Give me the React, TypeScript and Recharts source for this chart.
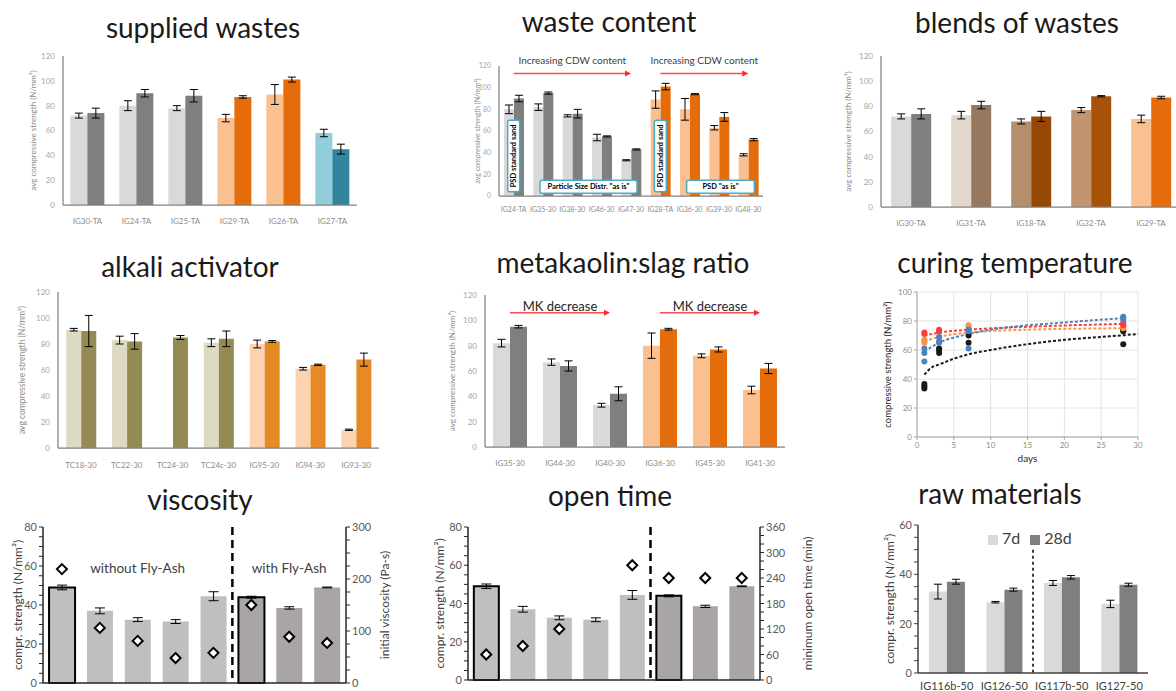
import React from 'react'
import {
  BarChart,
  Bar,
  ComposedChart,
  Line,
  Scatter,
  XAxis,
  YAxis,
  CartesianGrid,
  ErrorBar,
  Cell,
  ReferenceLine,
  ReferenceArea,
  ReferenceDot,
  Legend,
} from 'recharts'

// supplied wastes
const supCats = ['IG30-TA', 'IG24-TA', 'IG25-TA', 'IG29-TA', 'IG26-TA', 'IG27-TA']
const sup7d = [72, 80, 78, 70, 89, 58]
const sup7dErr = [2, 4, 2, 3, 8, 3]
const sup28d = [74, 90, 88, 87, 101, 45]
const sup28dErr = [4, 3, 5, 1, 2, 4]

// waste content
const wcCats = ['IG24-TA', 'IG35-30', 'IG38-30', 'IG46-30', 'IG47-30', 'IG28-TA', 'IG36-30', 'IG39-30', 'IG48-30']
const wc7d = [80, 82, 74, 54, 33, 89, 80, 63, 38]
const wc7dErr = [4, 3, 1, 3, 0.5, 8, 10, 2, 1]
const wc28d = [90, 95, 76, 55, 43, 101, 94, 73, 52]
const wc28dErr = [3, 1, 4, 0.5, 0.5, 3, 0.5, 4, 1]

// blends of wastes
const blCats = ['IG30-TA', 'IG31-TA', 'IG18-TA', 'IG32-TA', 'IG29-TA']
const bl7d = [72, 73, 68, 77, 70]
const bl7dErr = [2, 3, 2, 2, 3]
const bl28d = [74, 81, 72, 88, 87]
const bl28dErr = [4, 3, 4, 0.5, 1]

// alkali activator
const aaCats = ['TC18-30', 'TC22-30', 'TC24-30', 'TC24c-30', 'IG95-30', 'IG94-30', 'IG93-30']
const aa7d = [91, 83, null, 81, 80, 61, 14]
const aa7dErr = [1, 3, null, 3, 3, 1, 0.5]
const aa28d = [90, 82, 85, 84, 82, 64, 68]
const aa28dErr = [12, 6, 1.5, 6, 0.7, 0.5, 5]

// metakaolin:slag ratio
const mkCats = ['IG35-30', 'IG44-30', 'IG40-30', 'IG36-30', 'IG45-30', 'IG41-30']
const mk7d = [82, 67, 33, 80, 72, 45]
const mk7dErr = [3, 2.5, 1.5, 10, 1.5, 3]
const mk28d = [95, 64, 42, 93, 77, 62]
const mk28dErr = [1, 4, 5.5, 0.7, 2, 4]

// curing temperature (points + trend)
const blueDays = [1, 1, 1, 3, 3, 3, 7, 7, 7, 28, 28, 28]
const blueStrength = [61, 58, 52, 69, 66, 65, 74, 73, 61, 83, 82, 81]
const redDays = [1, 1, 3, 3, 7, 28, 28]
const redStrength = [72, 71, 74, 73, 74, 79, 77]
const orangeDays = [1, 1, 1, 3, 7, 7, 28, 28]
const orangeStrength = [67, 66, 65, 69, 77, 76, 76, 75]
const blackDays = [1, 1, 1, 3, 3, 3, 7, 7, 28, 28, 28]
const blackStrength = [36.5, 35, 33.5, 61, 60, 58, 70, 65, 74, 73, 64]
const blueTrendDays = [1, 3, 7, 10, 15, 20, 28]
const blueTrend = [59, 65, 71, 74, 77, 79, 82]
const redTrendDays = [1, 3, 7, 15, 28]
const redTrend = [70, 72, 74, 76, 78]
const orangeTrendDays = [1, 3, 7, 15, 28]
const orangeTrend = [66, 69, 72, 74, 75]
const blackTrendDays = [1, 2, 3, 5, 7, 10, 15, 20, 25, 30]
const blackTrend = [43, 48, 50, 54, 57, 60, 64, 67, 69, 71]

// viscosity / open time
const mixCats = ['noFA-1', 'noFA-2', 'noFA-3', 'noFA-4', 'noFA-5', 'FA-1', 'FA-2', 'FA-3']
const mixStrength = [49, 37, 32.5, 31.5, 44.5, 44, 38.5, 49]
const mixStrengthErr = [1.2, 1.5, 1, 1, 2.3, 0.5, 0.6, 0.2]
const mixViscosity = [219, 106, 81, 48, 58, 150, 89, 77]
const mixOpenTime = [60, 80, 120, null, 270, 240, 240, 240]

// raw materials
const rawCats = ['IG116b-50', 'IG126-50', 'IG117b-50', 'IG127-50']
const raw7d = [33, 28.7, 36.5, 28]
const raw7dErr = [3, 0.3, 1, 1.5]
const raw28d = [37, 33.8, 38.8, 35.8]
const raw28dErr = [1, 0.6, 0.7, 0.6]

// ticks
const strengthTicks = [0, 20, 40, 60, 80, 100, 120]
const cureStrengthTicks = [0, 20, 40, 60, 80, 100]
const cureDayTicks = [0, 5, 10, 15, 20, 25, 30]
const mixLeftTicks = [0, 5, 10, 15, 20, 25, 30, 35, 40, 45, 50, 55, 60, 65, 70, 75, 80]
const mixLeftLabels = [0, 20, 40, 60, 80]
const viscTicks = [0, 25, 50, 75, 100, 125, 150, 175, 200, 225, 250, 275, 300]
const viscLabels = [0, 100, 200, 300]
const openTicks = [0, 20, 40, 60, 80, 100, 120, 140, 160, 180, 200, 220, 240, 260, 280, 300, 320, 340, 360]
const openLabels = [0, 60, 120, 180, 240, 300, 360]
const rawTicks = [0, 5, 10, 15, 20, 25, 30, 35, 40, 45, 50, 55, 60]
const rawLabels = [0, 20, 40, 60]

const GREY_L = '#d9d9d9'
const GREY_D = '#7f7f7f'
const ORG_L = '#fac090'
const ORG_D = '#e46c0a'
const FRAME = '#808080'
const STRENGTH_LABEL = 'avg compressive strength (N/mm²)'

function RedArrow(props: any) {
  const { x1, y1, x2, y2 } = props
  return (
    <g>
      <line x1={x1} y1={y1} x2={x2 - 4} y2={y2} stroke="#ff4d4d" strokeWidth={1.5} />
      <polygon points={`${x2},${y2} ${x2 - 6},${y2 - 3} ${x2 - 6},${y2 + 3}`} fill="#ff2a2a" />
    </g>
  )
}

// text box drawn along a reference segment (vertical or horizontal)
function noteBox(text: string) {
  return (props: any) => {
    const { x1, y1, x2, y2 } = props
    const vertical = Math.abs(x2 - x1) < 1
    const left = vertical ? x1 - 6 : Math.min(x1, x2) - 3
    const w = vertical ? 12 : Math.abs(x2 - x1) + 9
    const top = vertical ? Math.min(y1, y2) : y1 - 6.5
    const h = vertical ? Math.abs(y2 - y1) : 13
    const cx = left + w / 2
    const cy = top + h / 2
    return (
      <g>
        <rect x={left} y={top} width={w} height={h} rx={2} fill="#fff" stroke="#4bacc6" strokeWidth={1.5} />
        <text
          x={cx}
          y={cy}
          transform={vertical ? `rotate(-90 ${cx} ${cy})` : undefined}
          textAnchor="middle"
          dominantBaseline="central"
          fontSize={7.5}
          fontWeight={700}
          fill="#000"
        >
          {text}
        </text>
      </g>
    )
  }
}

function divider(width: number, dash: string) {
  return (props: any) => {
    const { x, y, height } = props
    return <line x1={x} x2={x} y1={y} y2={y + height} stroke="#000" strokeWidth={width} strokeDasharray={dash} />
  }
}

function Diamond(props: any) {
  const { cx, cy, value, index } = props
  if (cx == null || cy == null || value == null) return <g key={index} />
  return (
    <polygon
      key={index}
      points={`${cx},${cy - 5} ${cx + 5},${cy} ${cx},${cy + 5} ${cx - 5},${cy}`}
      fill="#fff"
      stroke="#000"
      strokeWidth={2}
    />
  )
}

function Dot(props: any) {
  const { cx, cy, fill } = props
  return <circle cx={cx} cy={cy} r={3} fill={fill} />
}

function MajorTick(props: any) {
  const { x, y, payload, labels, textAnchor } = props
  if (!labels.includes(payload.value)) return null
  return (
    <text x={x} y={y} dy={4} textAnchor={textAnchor} fontSize={11} fill="#595959">
      {payload.value}
    </text>
  )
}

function Title({ text, cx, baseline }: { text: string; cx: number; baseline: number }) {
  return (
    <div style={{
      position: 'absolute',
      left: cx - 200,
      width: 400,
      top: baseline - 28,
      textAlign: 'center',
      fontSize: 28,
      lineHeight: '34px',
      color: '#1a1a1a',
    }}>
      {text}
    </div>
  )
}

interface StrengthProps {
  left: number
  top: number
  width: number
  height: number
  margin: { top: number; right: number; bottom: number; left: number }
  yWidth: number
  xHeight: number
  tickGap: number
  font: number
  cats: string[]
  early: (number | null)[]
  earlyErr: (number | null)[]
  late: number[]
  lateErr: number[]
  earlyFill: string[]
  lateFill: string[]
  gap: string
  labelX: number
  labelFont: number
  children?: React.ReactNode
}

function StrengthPanel(p: StrengthProps) {
  const rows = p.cats.map((c, i) => ({
    cat: c,
    early: p.early[i],
    earlyErr: p.earlyErr[i],
    late: p.late[i],
    lateErr: p.lateErr[i],
  }))
  return (
    <div style={{ position: 'absolute', left: p.left, top: p.top }}>
      <BarChart width={p.width} height={p.height} data={rows} margin={p.margin} barGap={0} barCategoryGap={p.gap}>
        <XAxis
          dataKey="cat"
          height={p.xHeight}
          interval={0}
          tickLine={false}
          tickMargin={p.tickGap}
          axisLine={{ stroke: FRAME, strokeWidth: 1.25 }}
          tick={{ fontSize: p.font, fill: '#8c8c8c' }}
        />
        <XAxis xAxisId="frame" orientation="top" dataKey="cat" height={0} tick={false} tickLine={false} axisLine={{ stroke: FRAME, strokeWidth: 1.25 }} />
        <YAxis
          domain={[0, 120]}
          ticks={strengthTicks}
          interval={0}
          width={p.yWidth}
          tickLine={false}
          axisLine={{ stroke: FRAME, strokeWidth: 1.25 }}
          tick={{ fontSize: p.font, fill: '#a6a6a6' }}
          label={{
            value: STRENGTH_LABEL,
            angle: -90,
            position: 'insideLeft',
            offset: p.labelX,
            style: { textAnchor: 'middle', fontSize: p.labelFont, fill: '#8c8c8c' },
          }}
        />
        <YAxis yAxisId="frame" orientation="right" width={0} domain={[0, 120]} tick={false} tickLine={false} axisLine={{ stroke: FRAME, strokeWidth: 1.25 }} />
        <Bar dataKey="early" name="7d" isAnimationActive={false}>
          {rows.map((r, i) => <Cell key={r.cat} fill={p.earlyFill[i]} />)}
          <ErrorBar dataKey="earlyErr" width={4} stroke="#000" strokeWidth={1} />
        </Bar>
        <Bar dataKey="late" name="28d" isAnimationActive={false}>
          {rows.map((r, i) => <Cell key={r.cat} fill={p.lateFill[i]} />)}
          <ErrorBar dataKey="lateErr" width={4} stroke="#000" strokeWidth={1} />
        </Bar>
        {p.children}
      </BarChart>
    </div>
  )
}

interface MixProps {
  left: number
  top: number
  width: number
  height: number
  margin: { top: number; right: number; bottom: number; left: number }
  yWidth: number
  rWidth: number
  markers: (number | null)[]
  rDomain: [number, number]
  rTicks: number[]
  rLabels: number[]
  rightLabel: string
  leftOffset: number
  rightOffset: number
  children?: React.ReactNode
}

const mixFill = ['#bfbfbf', '#bfbfbf', '#bfbfbf', '#bfbfbf', '#bfbfbf', '#aaa5a5', '#aaa5a5', '#aaa5a5']
const mixOutline = [true, false, false, false, false, true, false, false]

function MixPanel(p: MixProps) {
  const rows = mixCats.map((c, i) => ({ cat: c, s: mixStrength[i], sErr: mixStrengthErr[i], m: p.markers[i] }))
  return (
    <div style={{ position: 'absolute', left: p.left, top: p.top }}>
      <ComposedChart width={p.width} height={p.height} data={rows} margin={p.margin} barCategoryGap="16%">
        <XAxis dataKey="cat" height={4} tick={false} tickLine={false} axisLine={{ stroke: '#262626', strokeWidth: 1.5 }} />
        <YAxis
          yAxisId="l"
          domain={[0, 80]}
          ticks={mixLeftTicks}
          interval={0}
          width={p.yWidth}
          tickSize={4}
          tickLine={{ stroke: '#262626' }}
          axisLine={{ stroke: '#262626', strokeWidth: 1.5 }}
          tick={<MajorTick labels={mixLeftLabels} />}
          label={{
            value: 'compr. strength (N/mm²)',
            angle: -90,
            position: 'insideLeft',
            offset: p.leftOffset,
            style: { textAnchor: 'middle', fontSize: 12, fill: '#404040' },
          }}
        />
        <YAxis
          yAxisId="r"
          orientation="right"
          domain={p.rDomain}
          ticks={p.rTicks}
          interval={0}
          width={p.rWidth}
          tickSize={4}
          tickLine={{ stroke: '#262626' }}
          axisLine={{ stroke: '#262626', strokeWidth: 1.5 }}
          tick={<MajorTick labels={p.rLabels} />}
          label={{
            value: p.rightLabel,
            angle: -90,
            position: 'insideRight',
            offset: p.rightOffset,
            style: { textAnchor: 'middle', fontSize: 12, fill: '#404040' },
          }}
        />
        <Bar yAxisId="l" dataKey="s" isAnimationActive={false}>
          {rows.map((r, i) => (
            <Cell key={r.cat} fill={mixFill[i]} stroke={mixOutline[i] ? '#000' : 'none'} strokeWidth={2} />
          ))}
          <ErrorBar dataKey="sErr" width={5} stroke="#000" strokeWidth={1} />
        </Bar>
        <Line yAxisId="r" dataKey="m" stroke="none" dot={Diamond} activeDot={false} isAnimationActive={false} />
        <ReferenceArea yAxisId="l" x1="FA-1" x2="FA-1" y1={0} y2={80} shape={divider(2.5, '8 5')} />
        {p.children}
      </ComposedChart>
    </div>
  )
}

function CuringPanel() {
  const pts = (d: number[], v: number[]) => d.map((x, i) => ({ x, y: v[i] }))
  const series = [
    { name: 'black', color: '#1a1a1a', pts: pts(blackDays, blackStrength), trend: pts(blackTrendDays, blackTrend) },
    { name: 'orange', color: '#f79646', pts: pts(orangeDays, orangeStrength), trend: pts(orangeTrendDays, orangeTrend) },
    { name: 'red', color: '#ff3b3b', pts: pts(redDays, redStrength), trend: pts(redTrendDays, redTrend) },
    { name: 'blue', color: '#4f81bd', pts: pts(blueDays, blueStrength), trend: pts(blueTrendDays, blueTrend) },
  ]
  return (
    <div style={{ position: 'absolute', left: 860, top: 280 }}>
      <ComposedChart width={300} height={187} margin={{ top: 12, right: 22, bottom: 2, left: 0 }}>
        <CartesianGrid stroke="#e3e3e3" />
        <XAxis
          type="number"
          dataKey="x"
          domain={[0, 30]}
          ticks={cureDayTicks}
          interval={0}
          height={28}
          tickSize={3}
          tickLine={{ stroke: '#a6a6a6' }}
          axisLine={{ stroke: '#a6a6a6' }}
          tick={{ fontSize: 8, fill: '#8c8c8c' }}
          label={{ value: 'days', position: 'insideBottom', offset: 3, style: { fontSize: 10, fill: '#262626' } }}
        />
        <XAxis xAxisId="top" orientation="top" type="number" domain={[0, 30]} height={0} tick={false} tickLine={false} axisLine={{ stroke: '#a6a6a6' }} />
        <YAxis
          type="number"
          dataKey="y"
          domain={[0, 100]}
          ticks={cureStrengthTicks}
          interval={0}
          width={57}
          tickSize={3}
          tickLine={{ stroke: '#a6a6a6' }}
          axisLine={{ stroke: '#a6a6a6' }}
          tick={{ fontSize: 8, fill: '#8c8c8c' }}
          label={{
            value: 'compressive strength (N/mm²)',
            angle: -90,
            position: 'insideLeft',
            offset: 28,
            style: { textAnchor: 'middle', fontSize: 9.5, fill: '#262626' },
          }}
        />
        <YAxis yAxisId="r" orientation="right" domain={[0, 100]} width={0} tick={false} tickLine={false} axisLine={{ stroke: '#a6a6a6' }} />
        {series.map((s) => (
          <Line
            key={`t-${s.name}`}
            data={s.trend}
            dataKey="y"
            type="monotone"
            stroke={s.color}
            strokeWidth={2}
            strokeDasharray="3 2"
            dot={false}
            activeDot={false}
            isAnimationActive={false}
          />
        ))}
        {series.map((s) => (
          <Scatter key={`p-${s.name}`} data={s.pts} dataKey="y" fill={s.color} shape={Dot} isAnimationActive={false} />
        ))}
      </ComposedChart>
    </div>
  )
}

function RawPanel() {
  const rows = rawCats.map((c, i) => ({ cat: c, early: raw7d[i], earlyErr: raw7dErr[i], late: raw28d[i], lateErr: raw28dErr[i] }))
  return (
    <div style={{ position: 'absolute', left: 850, top: 500 }}>
      <BarChart width={326} height={191} data={rows} margin={{ top: 25, right: 28, bottom: 0, left: 0 }} barGap={0} barCategoryGap="19%">
        <XAxis
          dataKey="cat"
          height={18}
          interval={0}
          tickLine={false}
          tickMargin={3}
          axisLine={{ stroke: '#404040', strokeWidth: 1.5 }}
          tick={{ fontSize: 11, fill: '#404040' }}
        />
        <XAxis xAxisId="frame" orientation="top" dataKey="cat" height={0} tick={false} tickLine={false} axisLine={{ stroke: '#404040', strokeWidth: 1.5 }} />
        <YAxis
          domain={[0, 60]}
          ticks={rawTicks}
          interval={0}
          width={68}
          tickSize={4}
          tickLine={{ stroke: '#404040' }}
          axisLine={{ stroke: '#404040', strokeWidth: 1.5 }}
          tick={<MajorTick labels={rawLabels} />}
          label={{
            value: 'compr. strength (N/mm²)',
            angle: -90,
            position: 'insideLeft',
            offset: 40,
            style: { textAnchor: 'middle', fontSize: 12, fill: '#404040' },
          }}
        />
        <YAxis yAxisId="frame" orientation="right" width={0} domain={[0, 60]} tick={false} tickLine={false} axisLine={{ stroke: '#404040', strokeWidth: 1.5 }} />
        <Legend
          layout="horizontal"
          verticalAlign="middle"
          align="center"
          iconType="square"
          iconSize={10}
          itemSorter="dataKey"
          wrapperStyle={{ top: 28, left: 138, width: 'auto', fontSize: 16 }}
          formatter={(v: string) => <span style={{ color: '#404040' }}>{v}</span>}
        />
        <Bar dataKey="early" name="7d" fill={GREY_L} isAnimationActive={false}>
          <ErrorBar dataKey="earlyErr" width={4} stroke="#000" strokeWidth={1} />
        </Bar>
        <Bar dataKey="late" name="28d" fill={GREY_D} isAnimationActive={false}>
          <ErrorBar dataKey="lateErr" width={4} stroke="#000" strokeWidth={1} />
        </Bar>
        <ReferenceArea x1="IG117b-50" x2="IG117b-50" y1={0} y2={50} shape={divider(1.5, '3 3')} />
      </BarChart>
    </div>
  )
}

const cdwArrowLevel = 113
const mkArrowLevel = 106
const sandBoxRange = [4, 70]
const asIsLevel = 8.5

export default function App() {
  return (
    <div style={{
      position: 'absolute',
      left: 0,
      top: 0,
      width: 1176,
      height: 691,
      overflow: 'hidden',
      background: '#fff',
      fontFamily: 'Lato, "Open Sans", sans-serif',
    }}>
      <Title text="supplied wastes" cx={203} baseline={38} />
      <Title text="waste content" cx={609} baseline={32} />
      <Title text="blends of wastes" cx={1017} baseline={33} />
      <Title text="alkali activator" cx={190} baseline={277} />
      <Title text="metakaolin:slag ratio" cx={623} baseline={273} />
      <Title text="curing temperature" cx={1015} baseline={273} />
      <Title text="viscosity" cx={200} baseline={510} />
      <Title text="open time" cx={610} baseline={506} />
      <Title text="raw materials" cx={1000} baseline={504} />

      <StrengthPanel
        left={15} top={40} width={350} height={190}
        margin={{ top: 16, right: 8, bottom: 5, left: 0 }}
        yWidth={48} xHeight={20} tickGap={7} font={8}
        cats={supCats} early={sup7d} earlyErr={sup7dErr} late={sup28d} lateErr={sup28dErr}
        earlyFill={[GREY_L, GREY_L, GREY_L, ORG_L, ORG_L, '#92cddc']}
        lateFill={[GREY_D, GREY_D, GREY_D, ORG_D, ORG_D, '#31859c']}
        gap="15%" labelX={18} labelFont={8}
      />

      <StrengthPanel
        left={445} top={40} width={330} height={180}
        margin={{ top: 26, right: 12, bottom: 6, left: 0 }}
        yWidth={54} xHeight={18} tickGap={5} font={7}
        cats={wcCats} early={wc7d} earlyErr={wc7dErr} late={wc28d} lateErr={wc28dErr}
        earlyFill={[GREY_L, GREY_L, GREY_L, GREY_L, GREY_L, ORG_L, ORG_L, ORG_L, ORG_L]}
        lateFill={[GREY_D, GREY_D, GREY_D, GREY_D, GREY_D, ORG_D, ORG_D, ORG_D, ORG_D]}
        gap="17%" labelX={33} labelFont={7}
      >
        <ReferenceLine
          segment={[{ x: 'IG24-TA', y: cdwArrowLevel }, { x: 'IG47-30', y: cdwArrowLevel }]}
          shape={RedArrow}
          label={{ value: 'Increasing CDW content', position: 'top', offset: 10, fontSize: 10, fill: '#404040' }}
        />
        <ReferenceLine
          segment={[{ x: 'IG28-TA', y: cdwArrowLevel }, { x: 'IG48-30', y: cdwArrowLevel }]}
          shape={RedArrow}
          label={{ value: 'Increasing CDW content', position: 'top', offset: 10, fontSize: 10, fill: '#404040' }}
        />
        <ReferenceLine
          zIndex={1500}
          segment={[{ x: 'IG24-TA', y: sandBoxRange[0] }, { x: 'IG24-TA', y: sandBoxRange[1] }]}
          shape={noteBox('PSD standard sand')}
        />
        <ReferenceLine
          zIndex={1500}
          segment={[{ x: 'IG28-TA', y: sandBoxRange[0] }, { x: 'IG28-TA', y: sandBoxRange[1] }]}
          shape={noteBox('PSD standard sand')}
        />
        <ReferenceLine
          zIndex={1500}
          segment={[{ x: 'IG35-30', y: asIsLevel }, { x: 'IG47-30', y: asIsLevel }]}
          shape={noteBox('Particle Size Distr. "as is"')}
        />
        <ReferenceLine
          zIndex={1500}
          segment={[{ x: 'IG36-30', y: asIsLevel }, { x: 'IG48-30', y: asIsLevel }]}
          shape={noteBox('PSD "as is"')}
        />
      </StrengthPanel>

      <StrengthPanel
        left={830} top={40} width={359} height={192}
        margin={{ top: 16, right: 8, bottom: 5, left: 0 }}
        yWidth={51} xHeight={20} tickGap={7} font={8}
        cats={blCats} early={bl7d} earlyErr={bl7dErr} late={bl28d} lateErr={bl28dErr}
        earlyFill={[GREY_L, '#e3d6ca', '#b38f6e', '#c19571', ORG_L]}
        lateFill={[GREY_D, '#967860', '#974806', '#a65208', ORG_D]}
        gap="17%" labelX={18} labelFont={8}
      />

      <StrengthPanel
        left={5} top={280} width={380} height={190}
        margin={{ top: 12, right: 6, bottom: 2, left: 0 }}
        yWidth={53} xHeight={20} tickGap={8} font={8}
        cats={aaCats} early={aa7d} earlyErr={aa7dErr} late={aa28d} lateErr={aa28dErr}
        earlyFill={['#ddd9c3', '#ddd9c3', '#ddd9c3', '#ddd9c3', '#fcd3b0', '#fcd3b0', '#fcd3b0']}
        lateFill={['#948a54', '#948a54', '#948a54', '#948a54', '#e68a25', '#e68a25', '#e68a25']}
        gap="18%" labelX={17} labelFont={8.5}
      />

      <StrengthPanel
        left={440} top={280} width={350} height={190}
        margin={{ top: 15, right: 5, bottom: 3, left: 0 }}
        yWidth={45} xHeight={20} tickGap={7} font={8}
        cats={mkCats} early={mk7d} earlyErr={mk7dErr} late={mk28d} lateErr={mk28dErr}
        earlyFill={[GREY_L, GREY_L, GREY_L, ORG_L, ORG_L, ORG_L]}
        lateFill={[GREY_D, GREY_D, GREY_D, ORG_D, ORG_D, ORG_D]}
        gap="16%" labelX={12} labelFont={8}
      >
        <ReferenceLine
          segment={[{ x: 'IG35-30', y: mkArrowLevel }, { x: 'IG40-30', y: mkArrowLevel }]}
          shape={RedArrow}
          label={{ value: 'MK decrease', position: 'top', offset: 2, fontSize: 13, fill: '#262626' }}
        />
        <ReferenceLine
          segment={[{ x: 'IG36-30', y: mkArrowLevel }, { x: 'IG41-30', y: mkArrowLevel }]}
          shape={RedArrow}
          label={{ value: 'MK decrease', position: 'top', offset: 2, fontSize: 13, fill: '#262626' }}
        />
      </StrengthPanel>

      <CuringPanel />

      <MixPanel
        left={0} top={500} width={400} height={191}
        margin={{ top: 27, right: 0, bottom: 4, left: 0 }}
        yWidth={43} rWidth={54}
        markers={mixViscosity} rDomain={[0, 300]} rTicks={viscTicks} rLabels={viscLabels}
        rightLabel="initial viscosity (Pa-s)" leftOffset={18} rightOffset={15}
      >
        <ReferenceDot yAxisId="l" x="noFA-3" y={59} r={0} ifOverflow="visible"
          label={{ value: 'without Fly-Ash', position: 'center', fontSize: 13.5, fill: '#404040' }} />
        <ReferenceDot yAxisId="l" x="FA-2" y={59} r={0} ifOverflow="visible"
          label={{ value: 'with Fly-Ash', position: 'center', fontSize: 13.5, fill: '#404040' }} />
      </MixPanel>

      <MixPanel
        left={420} top={500} width={400} height={191}
        margin={{ top: 27, right: 0, bottom: 7, left: 0 }}
        yWidth={48} rWidth={60}
        markers={mixOpenTime} rDomain={[0, 360]} rTicks={openTicks} rLabels={openLabels}
        rightLabel="minimum open time (min)" leftOffset={20} rightOffset={12}
      />

      <RawPanel />
    </div>
  )
}
